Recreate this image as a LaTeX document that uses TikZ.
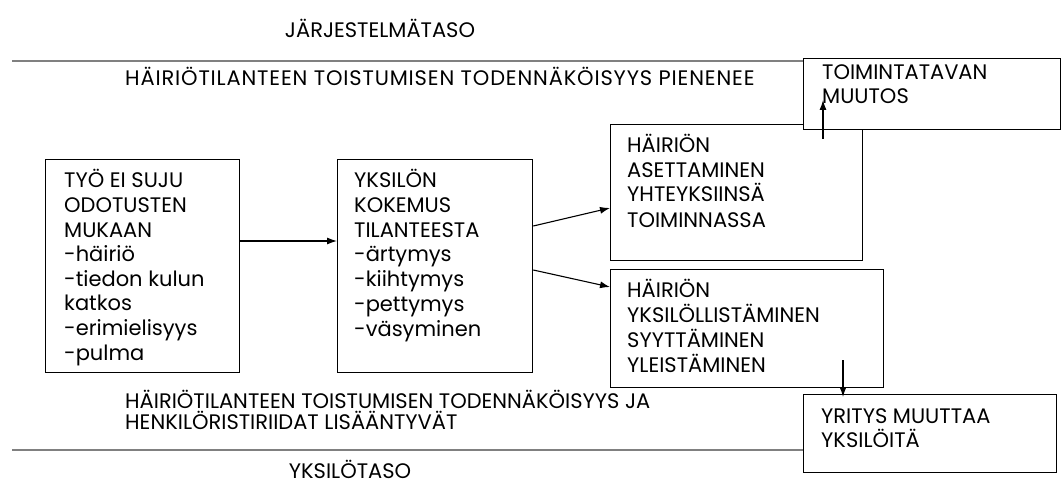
\documentclass[tikz,border=0pt]{standalone}
\usepackage{fontspec}
\setmainfont{Poppins}
\usetikzlibrary{arrows.meta}
\begin{document}
\begin{tikzpicture}[x=1pt,y=-1pt,
  box/.style={draw=black,line width=1.3pt,inner sep=0pt,anchor=north west},
  txt/.style={inner sep=0pt,anchor=base west,align=left,font=\fontsize{21}{24.6}\selectfont},
  lbl/.style={inner sep=0pt,anchor=base,font=\fontsize{21}{24}\selectfont},
  level/.style={draw=black!50,line width=2.4pt},
  arr/.style={-{Latex[length=10pt,width=7pt]},line width=1.1pt}]
\useasboundingbox (0,0) rectangle (1061,484);

% boxes
\node[box,minimum width=194pt,minimum height=213pt] (b1) at (45,159) {};
\node[box,minimum width=195pt,minimum height=213pt] (b2) at (337,159) {};
\node[box,minimum width=252pt,minimum height=136pt] (b3) at (610,124) {};
\node[box,minimum width=273pt,minimum height=118pt] (b4) at (610,269) {};
\node[box,minimum width=253pt,minimum height=78pt] (b5) at (803,394) {};
\node[box,minimum width=257pt,minimum height=71pt,fill=white] (b6) at (803,58) {};

% box texts (anchored at the baseline of the last line)
\node[txt] (t1) at (64,360) {TYÖ EI SUJU\\ODOTUSTEN\\MUKAAN\\-häiriö\\-tiedon kulun\\katkos\\-erimielisyys\\-pulma};
\node[txt,font=\fontsize{21}{24.7}\selectfont] (t2) at (354,336) {YKSILÖN\\KOKEMUS\\TILANTEESTA\\-ärtymys\\-kiihtymys\\-pettymys\\-väsyminen};
\node[txt,font=\fontsize{21}{25}\selectfont] (t3) at (627,227) {HÄIRIÖN\\ASETTAMINEN\\YHTEYKSIINSÄ\\TOIMINNASSA};
\node[txt,font=\fontsize{21}{25}\selectfont] (t4) at (627,372) {HÄIRIÖN\\YKSILÖLLISTÄMINEN\\SYYTTÄMINEN\\YLEISTÄMINEN};
\node[txt,font=\fontsize{21}{24}\selectfont] (t5) at (821,447) {YRITYS MUUTTAA\\YKSILÖITÄ};
\node[txt,font=\fontsize{21}{24}\selectfont] (t6) at (822,104) {TOIMINTATAVAN\\MUUTOS};

% level separators and labels
\draw[level] (12,61) -- (b6.west |- 0,61);
\draw[level] (12,450) -- (b5.west |- 0,450);
\node[lbl] (sys) at (380,38) {JÄRJESTELMÄTASO};
\node[lbl] (ind) at (350,478) {YKSILÖTASO};
\node[txt,font=\addfontfeatures{LetterSpace=4}\fontsize{21}{24}\selectfont] (up) at (125,86) {HÄIRIÖTILANTEEN TOISTUMISEN TODENNÄKÖISYYS PIENENEE};
\node[txt,font=\fontsize{21}{21}\selectfont] (down) at (125,429) {HÄIRIÖTILANTEEN TOISTUMISEN TODENNÄKÖISYYS JA\\HENKILÖRISTIRIIDAT LISÄÄNTYVÄT};

% connectors
\draw[arr] ([yshift=-82pt]b1.north east) -- ([yshift=-82pt]b2.north west);
\draw[arr] ([yshift=-67pt]b2.north east) -- ([yshift=-84pt]b3.north west);
\draw[arr] ([yshift=-111pt]b2.north east) -- ([yshift=-18pt]b4.north west);
\draw[arr] ([xshift=213pt,yshift=-15pt]b3.north west) -- ([xshift=20pt,yshift=-42pt]b6.north west);
\draw[arr] ([xshift=233pt,yshift=-91pt]b4.north west) -- ([xshift=40pt,yshift=-3pt]b5.north west);
\end{tikzpicture}
\end{document}
